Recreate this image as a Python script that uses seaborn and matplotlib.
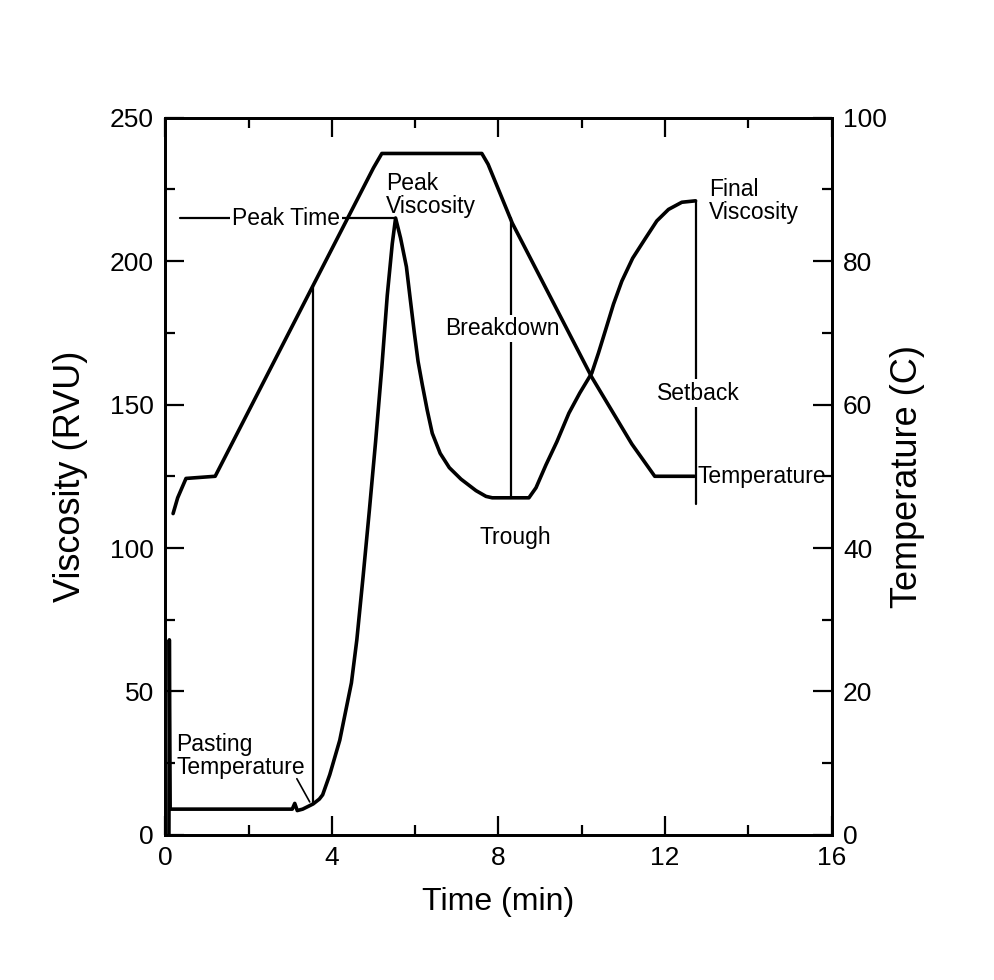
import numpy as np
import pandas as pd
import matplotlib
matplotlib.use("Agg")
import matplotlib.pyplot as plt
import seaborn as sns
from matplotlib.ticker import MultipleLocator

# ---- data ----
visc_time = [0.09, 0.10, 0.12, 1.0, 2.0, 3.05, 3.11, 3.17, 3.3, 3.55, 3.7, 3.78, 3.95,
             4.19, 4.33, 4.47, 4.6, 4.75, 4.9, 5.05, 5.2, 5.33, 5.45, 5.53,
             5.65, 5.79, 5.88, 5.98, 6.07, 6.17, 6.29, 6.41, 6.6, 6.82, 7.1, 7.46,
             7.7, 7.85, 8.73, 8.9, 9.14, 9.4, 9.69, 9.95, 10.24, 10.4, 10.57, 10.76,
             10.96, 11.22, 11.53, 11.8, 12.08, 12.4, 12.73]
viscosity = [0, 68, 9, 9, 9, 9, 11, 8.5, 9, 10.8, 12.5, 14, 21,
             33, 43, 53, 68, 90, 113, 137, 163, 188, 206, 215,
             208, 198, 187, 175, 165, 157, 148, 140, 133, 128, 124, 120,
             118, 117.5, 117.5, 121, 129, 137, 147, 154, 161, 168, 176, 185,
             193, 201, 208, 214, 218, 220.5, 221]

temp_time = [0.19, 0.3, 0.5, 1.2, 5.0, 5.2, 7.6, 7.75, 8.33, 10.24, 11.2, 11.75, 12.7]
temperature = [44.8, 47, 49.7, 50, 93, 95, 95, 93.5, 85.3, 63.8, 54.5, 50, 50]

x_ticks = [0, 4, 8, 12, 16]
visc_ticks = [0, 50, 100, 150, 200, 250]
temp_ticks = [0, 20, 40, 60, 80, 100]

# key points
pasting_time = 3.55
breakdown_time = 8.3
peak_time_line_start = 0.35

sns.set_theme(style="ticks")
plt.rcParams['font.family'] = ['Liberation Sans', 'DejaVu Sans']
plt.rcParams['text.color'] = 'black'
plt.rcParams['axes.labelcolor'] = 'black'
plt.rcParams['xtick.color'] = 'black'
plt.rcParams['ytick.color'] = 'black'

visc_df = pd.DataFrame({"Time": visc_time, "Viscosity": viscosity})
temp_df = pd.DataFrame({"Time": temp_time, "Temperature": temperature})

fig = plt.figure(figsize=(9.95, 9.8), dpi=100)
ax = fig.add_axes([0.166, 0.148, 0.670, 0.732])
ax2 = ax.twinx()

lw = 2.6
sns.lineplot(data=visc_df, x="Time", y="Viscosity", ax=ax, color="black",
             linewidth=lw, estimator=None, sort=False, zorder=5,
             solid_joinstyle="round")
sns.lineplot(data=temp_df, x="Time", y="Temperature", ax=ax2, color="black",
             linewidth=lw, estimator=None, sort=False, zorder=5,
             solid_joinstyle="round")

ax.set_xlim(0, 16)
ax.set_ylim(0, 250)
ax2.set_ylim(0, 100)
ax.set_xticks(x_ticks)
ax.set_yticks(visc_ticks)
ax2.set_yticks(temp_ticks)
ax.xaxis.set_minor_locator(MultipleLocator(2))
ax.yaxis.set_minor_locator(MultipleLocator(25))
ax2.yaxis.set_minor_locator(MultipleLocator(10))

tick_fs = 19
ax.tick_params(axis='both', which='major', direction='in', length=14, width=1.6,
               labelsize=tick_fs, top=True, pad=8, colors='black')
ax.tick_params(axis='both', which='minor', direction='in', length=7, width=1.6, top=True)
ax.tick_params(axis='y', right=False)
ax2.tick_params(axis='y', which='major', direction='in', length=14, width=1.6,
                labelsize=tick_fs, pad=8, colors='black')
ax2.tick_params(axis='y', which='minor', direction='in', length=7, width=1.6)

for a in (ax, ax2):
    for s in a.spines.values():
        s.set_linewidth(2.0)
        s.set_color("black")

ax.set_xlabel("Time (min)", fontsize=23, labelpad=12, color="black")
ax.set_ylabel("Viscosity (RVU)", fontsize=26, labelpad=16, color="black")
ax2.set_ylabel("Temperature (C)", fontsize=26, labelpad=2, color="black")

# ---- annotation lines derived from the data ----
scale = 250 / 100  # temperature -> viscosity axis units
ann_lw = 1.6
ann_fs = 16.5
vt = np.array(visc_time)
vv = np.array(viscosity)
ipk = int(np.argmax(vv[:30]))
peak_t, peak_v = vt[ipk], vv[ipk]
trough_v = min(viscosity[30:42])
final_t, final_v = visc_time[-1], viscosity[-1]
paste_v = np.interp(pasting_time, visc_time, viscosity)
paste_temp = np.interp(pasting_time, temp_time, temperature)

# Peak time horizontal
ax.plot([peak_time_line_start, peak_t], [peak_v, peak_v], color="black", lw=ann_lw, zorder=2)
# Pasting temperature vertical
ax.plot([pasting_time, pasting_time], [paste_v, paste_temp * scale], color="black",
        lw=ann_lw, zorder=2)
ax.plot([3.16, 3.47], [19.6, 11.5], color="black", lw=1.2, zorder=2)
# Breakdown vertical
ax.plot([breakdown_time, breakdown_time], [trough_v, peak_v], color="black", lw=ann_lw, zorder=2)
# Setback vertical
ax.plot([final_t, final_t], [final_v, trough_v - 2], color="black", lw=ann_lw, zorder=2)

bb = dict(boxstyle="square,pad=0.1", fc="white", ec="none")
tkw = dict(fontsize=ann_fs, color="black", zorder=3)
ax.text(2.9, peak_v, "Peak Time", ha="center", va="center", bbox=bb, **tkw)
ax.text(5.3, 223, "Peak\nViscosity", ha="left", va="center", linespacing=1.0, **tkw)
ax.text(8.1, 176.5, "Breakdown", ha="center", va="center", bbox=bb, **tkw)
ax.text(8.4, 103.5, "Trough", ha="center", va="center", **tkw)
ax.text(12.8, 154, "Setback", ha="center", va="center", bbox=bb, **tkw)
ax.text(13.05, 221, "Final\nViscosity", ha="left", va="center", linespacing=1.0, **tkw)
ax.text(12.78, 125, "Temperature", ha="left", va="center", **tkw)
ax.text(0.27, 27.5, "Pasting\nTemperature", ha="left", va="center", linespacing=1.0, **tkw)

fig.savefig("out.png", dpi=100, facecolor="white")
